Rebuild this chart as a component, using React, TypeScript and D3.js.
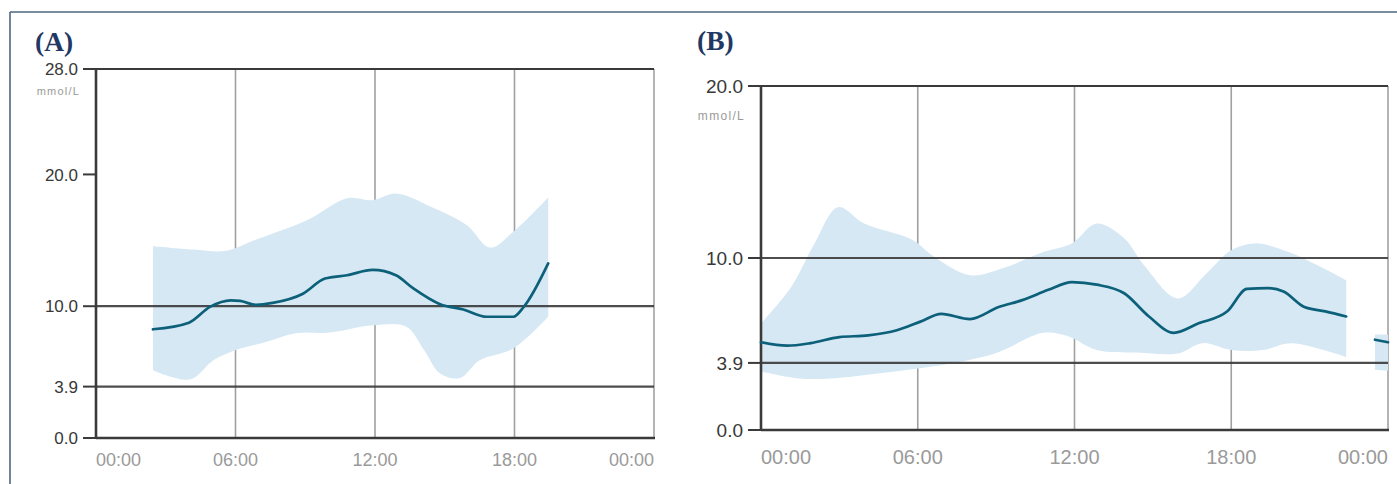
import React from 'react';
import * as d3 from 'd3';

const W = 1397;
const H = 484;

// ---------- Data ----------
const xTickHours = [0, 6, 12, 18, 24];
const xTickLabels = ['00:00', '06:00', '12:00', '18:00', '00:00'];

const aYTicks = [0, 3.9, 10, 20, 28];
const aYTickLabels = ['0.0', '3.9', '10.0', '20.0', '28.0'];
const aRefLines = [3.9, 10];

const aMedianHours = [2.45, 4.0, 4.9, 5.8, 6.2, 6.9, 7.6, 8.9, 9.85, 10.8, 11.9, 12.9, 13.65, 14.8, 15.8, 16.8, 17.95, 18.4, 19.45];
const aMedianValues = [8.25, 8.75, 9.95, 10.45, 10.4, 10.1, 10.25, 10.95, 12.1, 12.35, 12.75, 12.35, 11.35, 10.15, 9.75, 9.2, 9.2, 9.95, 13.25];

const aUpperHours = [2.45, 4.2, 5.6, 6.8, 9.05, 10.8, 11.9, 12.9, 14.4, 15.95, 16.95, 17.95, 19.45];
const aUpperValues = [14.55, 14.3, 14.2, 15.0, 16.5, 18.2, 18.05, 18.55, 17.55, 16.15, 14.45, 15.65, 18.25];
const aLowerHours = [2.45, 4.05, 5.05, 6.05, 7.35, 8.6, 10.05, 11.9, 13.35, 14.1, 14.8, 15.65, 16.5, 17.95, 19.45];
const aLowerValues = [5.15, 4.45, 5.9, 6.7, 7.3, 7.95, 8.0, 8.55, 8.45, 6.7, 4.9, 4.55, 5.9, 6.8, 9.2];

const bYTicks = [0, 3.9, 10, 20];
const bYTickLabels = ['0.0', '3.9', '10.0', '20.0'];
const bRefLines = [3.9, 10];

const bMedianHours = [0, 1.0, 1.9, 3.0, 4.1, 5.2, 6.1, 6.9, 8.0, 9.1, 10.0, 11.0, 11.9, 12.85, 13.9, 14.85, 15.8, 16.75, 17.85, 18.6, 19.4, 20.0, 20.8, 21.6, 22.4];
const bMedianValues = [5.1, 4.9, 5.05, 5.4, 5.5, 5.8, 6.3, 6.75, 6.45, 7.15, 7.55, 8.15, 8.6, 8.45, 7.95, 6.6, 5.65, 6.2, 6.9, 8.2, 8.25, 8.05, 7.15, 6.9, 6.6];
const bUpperHours = [0, 1.15, 2.05, 2.95, 3.95, 5.8, 6.6, 8.0, 9.25, 10.8, 11.9, 12.85, 13.9, 14.7, 15.95, 17.05, 18.0, 18.9, 20.2, 21.4, 22.4];
const bUpperValues = [6.2, 8.3, 10.85, 12.95, 12.0, 11.05, 10.1, 9.0, 9.4, 10.35, 10.85, 12.0, 11.15, 9.5, 7.65, 9.1, 10.45, 10.85, 10.35, 9.5, 8.7];
const bLowerHours = [0, 1.45, 2.7, 4.55, 6.6, 8.95, 10.8, 11.75, 12.85, 14.4, 15.95, 16.9, 18.0, 19.2, 20.3, 22.4];
const bLowerValues = [3.4, 3.0, 3.0, 3.3, 3.7, 4.45, 5.65, 5.45, 4.65, 4.5, 4.45, 5.05, 4.65, 4.65, 5.05, 4.25];

const bTailHours = [23.5, 24];
const bTailMedian = [5.25, 5.1];
const bTailUpper = [5.55, 5.55];
const bTailLower = [3.5, 3.45];

// ---------- Styles ----------
const BAND = '#d5e8f4';
const LINE = '#0d6079';
const DARK = '#3a3a3a';
const GRID = '#a0a0a0';
const TITLE = '#1f3864';
const SANS = '"Liberation Sans", Arial, Helvetica, sans-serif';

type Series = { hours: number[]; median: number[]; upperH: number[]; upper: number[]; lowerH: number[]; lower: number[] };

type PanelProps = {
  title: string;
  titleX: number;
  titleY: number;
  left: number;
  right: number;
  top: number;
  bottom: number;
  yMax: number;
  yTicks: number[];
  yTickLabels: string[];
  refLines: number[];
  series: Series[];
  yFont: number;
  xFont: number;
  unitFont: number;
  unitSpacing: number;
  unitY: number;
  xLabelY: number;
};

function Panel(p: PanelProps) {
  const x = d3.scaleLinear().domain([0, 24]).range([p.left, p.right]);
  const y = d3.scaleLinear().domain([0, p.yMax]).range([p.bottom, p.top]);
  const edge = d3
    .line<[number, number]>()
    .x((d) => x(d[0]))
    .y((d) => y(d[1]))
    .curve(d3.curveCatmullRom.alpha(0.5));
  const med = d3
    .line<[number, number]>()
    .x((d) => x(d[0]))
    .y((d) => y(d[1]))
    .curve(d3.curveMonotoneX);

  const bands = p.series.map((s) => {
    const up = d3.zip(s.upperH, s.upper) as [number, number][];
    const lo = (d3.zip(s.lowerH, s.lower) as [number, number][]).reverse();
    return (edge(up) || '') + (edge(lo) || '').replace(/^M/, 'L') + 'Z';
  });
  const lines = p.series.map((s) => med(d3.zip(s.hours, s.median) as [number, number][]) || '');
  const tickLen = 13;

  return (
    <g>
      <text x={p.titleX} y={p.titleY} fontFamily='"Liberation Serif", "Times New Roman", serif' fontWeight="bold" fontSize={27.5} fill={TITLE}>
        {p.title}
      </text>
      {/* vertical grid */}
      {xTickHours.slice(1, -1).map((h) => (
        <line key={'v' + h} x1={x(h)} x2={x(h)} y1={p.top} y2={p.bottom} stroke={GRID} strokeWidth={1.6} />
      ))}
      {/* right border */}
      <line x1={p.right} x2={p.right} y1={p.top} y2={p.bottom} stroke="#b4b4b4" strokeWidth={2} />
      {/* band */}
      {bands.map((d, i) => (
        <path key={'b' + i} d={d} fill={BAND} stroke="none" />
      ))}
      {/* reference lines */}
      {p.refLines.map((v) => (
        <line key={'r' + v} x1={p.left} x2={p.right} y1={y(v)} y2={y(v)} stroke={DARK} strokeWidth={2.2} opacity={0.9} />
      ))}
      {/* top border */}
      <line x1={p.left} x2={p.right} y1={p.top} y2={p.top} stroke={DARK} strokeWidth={2.2} />
      {/* bottom axis */}
      <line x1={p.left} x2={p.right + 1} y1={p.bottom} y2={p.bottom} stroke={DARK} strokeWidth={2.4} />
      {/* left axis */}
      <line x1={p.left} x2={p.left} y1={p.top - 1} y2={p.bottom + 1} stroke={DARK} strokeWidth={2.6} />
      {/* median lines */}
      {lines.map((d, i) => (
        <path key={'m' + i} d={d} fill="none" stroke={LINE} strokeWidth={2.7} strokeLinejoin="round" strokeLinecap="round" />
      ))}
      {/* y ticks */}
      {p.yTicks.map((v, i) => (
        <g key={'yt' + v}>
          <line x1={p.left - tickLen} x2={p.left} y1={y(v)} y2={y(v)} stroke={DARK} strokeWidth={2} />
          <text x={p.left - tickLen - 5} y={y(v)} dy="0.36em" textAnchor="end" fontFamily={SANS} fontSize={p.yFont} fill="#383838">
            {p.yTickLabels[i]}
          </text>
        </g>
      ))}
      <text
        x={p.left - tickLen - 3}
        y={p.unitY}
        textAnchor="end"
        fontFamily={SANS}
        fontSize={p.unitFont}
        letterSpacing={p.unitSpacing}
        fill="#9a9a9a"
      >
        mmol/L
      </text>
      {/* x labels */}
      {xTickHours.map((h, i) => (
        <text
          key={'xt' + i}
          x={x(h)}
          y={p.xLabelY}
          textAnchor={i === 0 ? 'start' : i === xTickHours.length - 1 ? 'end' : 'middle'}
          fontFamily={SANS}
          fontSize={p.xFont}
          fill="#9a9a9a"
        >
          {xTickLabels[i]}
        </text>
      ))}
    </g>
  );
}

export default function App() {
  const aSeries: Series[] = [
    { hours: aMedianHours, median: aMedianValues, upperH: aUpperHours, upper: aUpperValues, lowerH: aLowerHours, lower: aLowerValues },
  ];
  const bSeries: Series[] = [
    { hours: bMedianHours, median: bMedianValues, upperH: bUpperHours, upper: bUpperValues, lowerH: bLowerHours, lower: bLowerValues },
    { hours: bTailHours, median: bTailMedian, upperH: bTailHours, upper: bTailUpper, lowerH: bTailHours, lower: bTailLower },
  ];
  return (
    <svg width={W} height={H} style={{ position: 'absolute', left: 0, top: 0, background: '#fff' }}>
      <rect x={0} y={0} width={W} height={H} fill="#fff" />
      {/* outer frame */}
      <line x1={10} x2={W} y1={12} y2={12} stroke="#4d6680" strokeWidth={1.6} />
      <line x1={10} x2={10} y1={12} y2={H} stroke="#4d6680" strokeWidth={1.6} />
      <Panel
        title="(A)"
        titleX={35}
        titleY={51}
        left={96}
        right={654}
        top={69}
        bottom={438}
        yMax={28}
        yTicks={aYTicks}
        yTickLabels={aYTickLabels}
        refLines={aRefLines}
        series={aSeries}
        yFont={17}
        xFont={18}
        unitFont={11}
        unitSpacing={1.2}
        unitY={95}
        xLabelY={466}
      />
      <Panel
        title="(B)"
        titleX={697}
        titleY={50}
        left={761}
        right={1388}
        top={86}
        bottom={430}
        yMax={20}
        yTicks={bYTicks}
        yTickLabels={bYTickLabels}
        refLines={bRefLines}
        series={bSeries}
        yFont={19}
        xFont={20}
        unitFont={12}
        unitSpacing={1.3}
        unitY={120}
        xLabelY={464}
      />
    </svg>
  );
}
